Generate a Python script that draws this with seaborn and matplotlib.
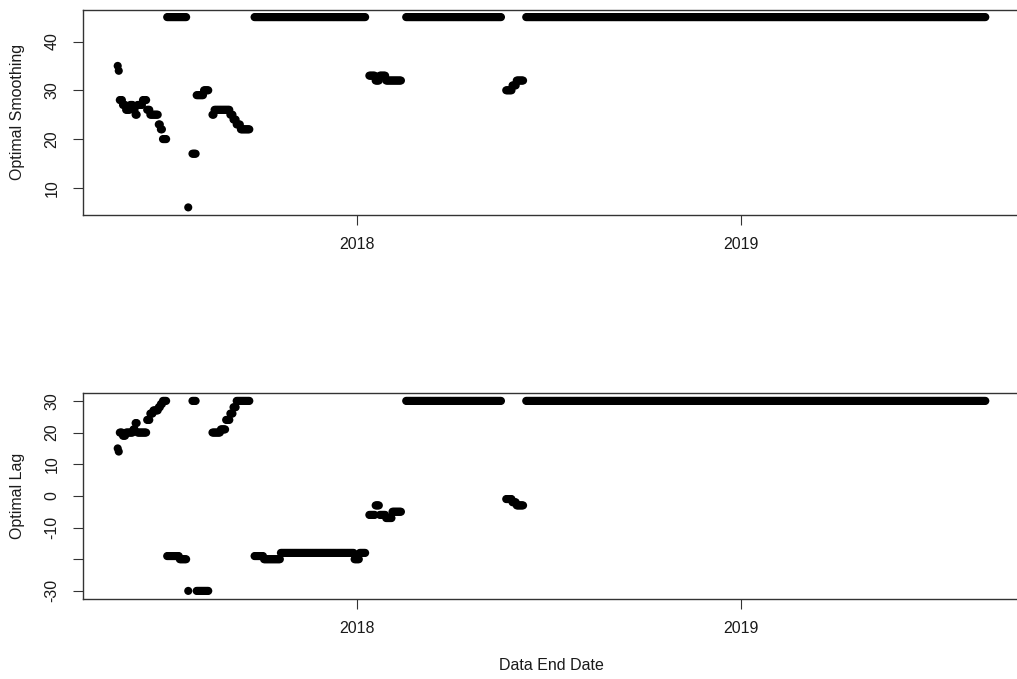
import numpy as np
import pandas as pd
import matplotlib
matplotlib.use("Agg")
import matplotlib.pyplot as plt
import seaborn as sns

# ---- data: runs of constant daily values ----
run_start = ["2017-05-19", "2017-05-20", "2017-05-21", "2017-05-24", "2017-05-27",
             "2017-05-31", "2017-06-03", "2017-06-05", "2017-06-07", "2017-06-12",
             "2017-06-16", "2017-06-19", "2017-06-22", "2017-06-27", "2017-06-29",
             "2017-07-01", "2017-07-05", "2017-07-17", "2017-07-25", "2017-07-29",
             "2017-08-02", "2017-08-09", "2017-08-17", "2017-08-19", "2017-08-25",
             "2017-08-30", "2017-09-03", "2017-09-06", "2017-09-09", "2017-09-13",
             "2017-09-26", "2017-10-05", "2017-10-21", "2017-12-30", "2018-01-04",
             "2018-01-13", "2018-01-19", "2018-01-23", "2018-01-29", "2018-02-04",
             "2018-02-17", "2018-05-23", "2018-05-29", "2018-06-02", "2018-06-11"]
run_end = ["2017-05-19", "2017-05-20", "2017-05-23", "2017-05-26", "2017-05-30",
           "2017-06-02", "2017-06-04", "2017-06-06", "2017-06-11", "2017-06-15",
           "2017-06-18", "2017-06-21", "2017-06-26", "2017-06-28", "2017-06-30",
           "2017-07-04", "2017-07-16", "2017-07-23", "2017-07-25", "2017-08-01",
           "2017-08-08", "2017-08-13", "2017-08-18", "2017-08-24", "2017-08-29",
           "2017-09-02", "2017-09-05", "2017-09-08", "2017-09-12", "2017-09-21",
           "2017-10-04", "2017-10-20", "2017-12-29", "2018-01-03", "2018-01-09",
           "2018-01-18", "2018-01-22", "2018-01-28", "2018-02-03", "2018-02-12",
           "2018-05-18", "2018-05-28", "2018-06-01", "2018-06-08", "2019-08-21"]
smoothing = [35, 34, 28, 27, 26, 27, 26, 25, 27, 28, 26, 25, 25, 23, 22,
             20, 45, 45, 6, 17, 29, 30, 25, 26, 26, 26, 25, 24, 23, 22,
             45, 45, 45, 45, 45, 33, 32, 33, 32, 32, 45, 30, 31, 32, 45]
lag = [15, 14, 20, 19, 20, 20, 21, 23, 20, 20, 24, 26, 27, 28, 29,
       30, -19, -20, -30, 30, -30, -30, 20, 20, 21, 24, 26, 28, 30, 30,
       -19, -20, -18, -20, -18, -6, -3, -6, -7, -5, 30, -1, -2, -3, 30]

xtick_dates = ["2018-01-01", "2019-01-01"]
xtick_labels = ["2018", "2019"]
smooth_ticks = [10, 20, 30, 40]
lag_ticks = [30, 20, 10, 0, -10, -20, -30]
lag_tick_labels = ["30", "20", "10", "0", "-10", "", "-30"]

rows = []
for s, e, sm, lg in zip(run_start, run_end, smoothing, lag):
    for d in pd.date_range(s, e, freq="D"):
        rows.append((d, sm, lg))
df = pd.DataFrame(rows, columns=["date", "smoothing", "lag"])

# ---- styling ----
sns.set_style("white")
plt.rcParams["font.family"] = ["Liberation Sans", "DejaVu Sans"]
FS = 11.5

W, H = 1017, 679
fig = plt.figure(figsize=(W / 100, H / 100), dpi=100)

def px_axes(left, top, right, bottom):
    return fig.add_axes([left / W, 1 - bottom / H, (right - left) / W, (bottom - top) / H])

ax1 = px_axes(83, 9.5, 1020, 215)
ax2 = px_axes(83, 393.3, 1020, 598.5)

dmin = df["date"].min()
dmax = df["date"].max()
span = dmax - dmin
xlim = (dmin - span * 0.04, dmax + span * 0.04)

def style(ax, ylim, yticks, ylabels):
    ax.set_xlim(xlim)
    ax.set_ylim(ylim)
    ax.set_xticks(pd.to_datetime(xtick_dates))
    ax.set_xticklabels(xtick_labels)
    ax.set_yticks(yticks)
    ax.set_yticklabels(ylabels, rotation=90, va="center")
    ax.tick_params(axis="both", direction="out", length=7, width=0.8,
                   color="#333333", labelsize=FS, labelcolor="#1a1a1a")
    ax.tick_params(axis="x", pad=9)
    ax.tick_params(axis="y", pad=10)
    ax.tick_params(bottom=True, left=True)
    for sp in ax.spines.values():
        sp.set_visible(True)
        sp.set_color("#333333")
        sp.set_linewidth(1.0)
    ax.set_xlabel("")
    ax.set_ylabel("")
    ax.grid(False)

sns.scatterplot(data=df, x="date", y="smoothing", ax=ax1, color="black",
                s=34, linewidth=0, edgecolor="none")
sm_min, sm_max = min(smoothing), max(smoothing)
r = (sm_max - sm_min) * 0.04
style(ax1, (sm_min - r, sm_max + r), smooth_ticks, [str(t) for t in smooth_ticks])

sns.scatterplot(data=df, x="date", y="lag", ax=ax2, color="black",
                s=34, linewidth=0, edgecolor="none")
lg_min, lg_max = min(lag), max(lag)
r = (lg_max - lg_min) * 0.04
style(ax2, (lg_min - r, lg_max + r), lag_ticks, lag_tick_labels)

fig.text(18 / W, 1 - 112 / H, "Optimal Smoothing", rotation=90, ha="center",
         va="center", fontsize=FS, color="#1a1a1a")
fig.text(18 / W, 1 - 496 / H, "Optimal Lag", rotation=90, ha="center",
         va="center", fontsize=FS, color="#1a1a1a")
fig.text(551 / W, 1 - 665 / H, "Data End Date", ha="center", va="center",
         fontsize=FS, color="#1a1a1a")

fig.savefig("out.png", dpi=100, facecolor="white")
